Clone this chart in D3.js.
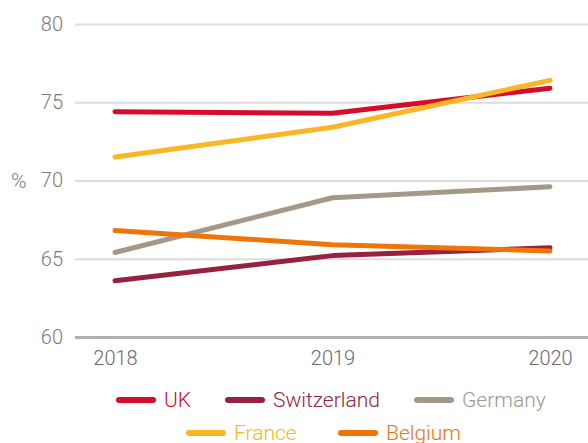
<!DOCTYPE html>
<html><head><meta charset="utf-8">
<script src="https://cdn.jsdelivr.net/npm/d3@7"></script>
<style>body{margin:0;background:#fff}svg{display:block;font-family:Roboto,"Liberation Sans",sans-serif;font-weight:300}</style>
</head><body><svg id="c" width="588" height="443"></svg>
<script>
const years = ["2018","2019","2020"];
const yTicks = [60,65,70,75,80];
const seriesNames = ["UK","Switzerland","Germany","France","Belgium"];
const seriesColors = ["#d50d2b","#97223f","#a49888","#fbb626","#ef7508"];
const ukValues = [74.4,74.3,75.9];
const switzerlandValues = [63.6,65.2,65.7];
const germanyValues = [65.4,68.9,69.6];
const franceValues = [71.5,73.4,76.4];
const belgiumValues = [66.8,65.9,65.5];
const allValues = [ukValues,switzerlandValues,germanyValues,franceValues,belgiumValues];
const drawOrder = [2,1,0,3,4];

const svg = d3.select("#c");
const x = d3.scalePoint().domain(years).range([115,550]);
const y = d3.scaleLinear().domain([60,80]).range([337,24]);

// grid
const g = svg.append("g").attr("transform","translate(75,0)");
g.call(d3.axisLeft(y).tickValues(yTicks).tickSize(-513).tickPadding(12))
 .call(a=>a.select(".domain").remove())
 .call(a=>a.selectAll(".tick line").attr("stroke",d=>d===60?"#b0b0b0":"#dcdcdc").attr("stroke-width",d=>d===60?3:2))
 .call(a=>a.selectAll(".tick text").attr("fill","#7a7a7a").attr("font-size",20).attr("font-family","Roboto").attr("font-weight",300));
svg.append("text").attr("x",11).attr("y",y(70)).attr("dy","0.35em").attr("fill","#7a7a7a").attr("font-size",21).text("%");

// x axis labels
svg.append("g").attr("transform","translate(0,337)")
 .call(d3.axisBottom(x).tickSize(0).tickPadding(14))
 .call(a=>a.select(".domain").remove())
 .call(a=>a.selectAll(".tick text").attr("fill","#6a6a6a").attr("font-size",20).attr("font-family","Roboto").attr("font-weight",300));

const line = d3.line().x((d,i)=>x(years[i])).y(d=>y(d));
drawOrder.forEach(k=>{
  svg.append("path").attr("d",line(allValues[k])).attr("fill","none")
    .attr("stroke",seriesColors[k]).attr("stroke-width",5).attr("stroke-linecap","round").attr("stroke-linejoin","round");
});

// legend
const legendRows = [[0,1,2],[3,4]];
const legendY = [400,433];
const legendX = [[116,225,414],[186,338]];
legendRows.forEach((r,ri)=>{
  r.forEach((k,j)=>{
    const it = svg.append("g").attr("transform",`translate(${legendX[ri][j]},${legendY[ri]})`);
    it.append("line").attr("x1",3).attr("x2",37).attr("stroke",seriesColors[k]).attr("stroke-width",6).attr("stroke-linecap","round");
    it.append("text").attr("x",48).attr("dy","0.35em").attr("fill",seriesColors[k]).attr("font-size",21).text(seriesNames[k]);
  });
});
</script></body></html>
